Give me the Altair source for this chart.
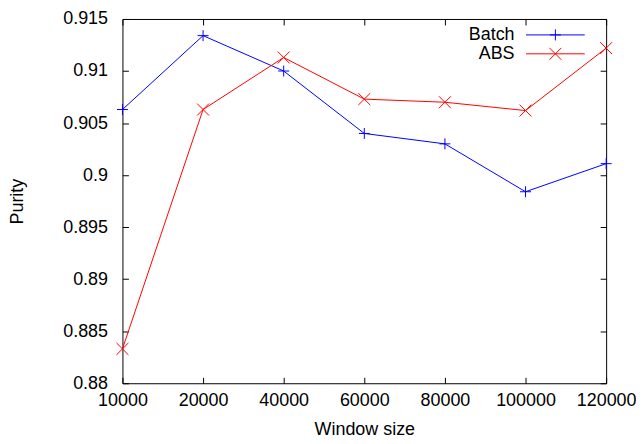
import altair as alt
import pandas as pd

windows = ["10000", "20000", "40000", "60000", "80000", "100000", "120000"]
batch = [0.9063, 0.9134, 0.9100, 0.9040, 0.9030, 0.8984, 0.9011]
abs_vals = [0.8833, 0.9063, 0.9113, 0.9073, 0.9070, 0.9062, 0.9122]
series_names = ["Batch", "ABS"]
series_colors = ["#0000ff", "#ff0000"]
y_ticks = [0.88, 0.885, 0.89, 0.895, 0.9, 0.905, 0.91, 0.915]

rows = []
for w, b, a in zip(windows, batch, abs_vals):
    rows.append({"window": w, "purity": b, "series": "Batch"})
    rows.append({"window": w, "purity": a, "series": "ABS"})
df = pd.DataFrame(rows)

W, H = 486, 366
FONT = "Liberation Sans"

PLUS = "M-1,0H1M0,-1V1"
CROSS = "M-1,-1L1,1M-1,1L1,-1"
LEG_PLUS = "M-4.92,0H4.92M0,-0.92V0.92M-0.92,0H0.92"
LEG_CROSS = "M-4.92,0H4.92M-1,-1L1,1M-1,1L1,-1"

xscale = alt.Scale(type="point", padding=0, domain=windows)
yscale = alt.Scale(domain=[0.88, 0.915], nice=False, zero=False)
cscale = alt.Scale(domain=series_names, range=series_colors)

base = alt.Chart(df)


def xenc(axis):
    return alt.X("window:O", scale=xscale, sort=windows, axis=axis)


def yenc(axis):
    return alt.Y("purity:Q", scale=yscale, axis=axis)


ax_x_main = alt.Axis(orient="bottom", title="Window size", ticks=False, domain=False,
                     labelAngle=0, labelPadding=8, titlePadding=12)
ax_y_main = alt.Axis(orient="left", title="Purity", values=y_ticks, format="~g",
                     ticks=False, domain=False, labelPadding=15, titlePadding=36)
ax_x_top_in = alt.Axis(orient="top", offset=-H, labels=False, title=None, domain=False,
                       ticks=True, tickSize=6, tickColor="black")
ax_y_right_in = alt.Axis(orient="right", offset=-W, labels=False, title=None, domain=False,
                         values=y_ticks, ticks=True, tickSize=6, tickColor="black")
ax_x_bot_in = alt.Axis(orient="bottom", offset=-H, labels=False, title=None, domain=False,
                       ticks=True, tickSize=6, tickColor="black")
ax_y_left_in = alt.Axis(orient="left", offset=-W, labels=False, title=None, domain=False,
                        values=y_ticks, ticks=True, tickSize=6, tickColor="black")

line_batch = base.transform_filter(alt.datum.series == "Batch").mark_line(
    strokeWidth=1, color=series_colors[0]
).encode(x=xenc(ax_x_main), y=yenc(ax_y_main))

line_abs = base.transform_filter(alt.datum.series == "ABS").mark_line(
    strokeWidth=1, color=series_colors[1]
).encode(x=xenc(ax_x_top_in), y=yenc(ax_y_right_in))

pts_batch = base.transform_filter(alt.datum.series == "Batch").mark_point(
    shape=PLUS, size=121, filled=False, strokeWidth=1, opacity=1, color=series_colors[0]
).encode(x=xenc(ax_x_bot_in), y=yenc(ax_y_left_in))

pts_abs = base.transform_filter(alt.datum.series == "ABS").mark_point(
    shape=CROSS, size=144, filled=False, strokeWidth=1, opacity=1, color=series_colors[1]
).encode(x=xenc(None), y=yenc(None))

legend_layer = base.transform_filter("false").mark_point(
    filled=False, strokeWidth=1, opacity=1
).encode(
    color=alt.Color("series:N", scale=cscale,
                    legend=alt.Legend(orient="none", legendX=426, legendY=7, title=None,
                                      labelAlign="right", labelOffset={"expr": "-50"},
                                      labelFontSize=18,
                                      labelFont=FONT, labelColor="black",
                                      symbolSize=144, symbolStrokeWidth=1, rowPadding=1,
                                      padding=0, direction="vertical")),
    shape=alt.Shape("series:N", scale=alt.Scale(domain=series_names, range=[LEG_PLUS, LEG_CROSS])),
)

chart = alt.layer(line_batch, line_abs, pts_batch, pts_abs, legend_layer).resolve_axis(
    x="independent", y="independent"
).properties(
    width=W, height=H,
    background="white",
    autosize=alt.AutoSizeParams(type="none"),
    padding={"left": 115, "top": 10, "right": 30, "bottom": 58},
).configure_view(
    stroke="black", strokeWidth=1
).configure_axis(
    labelFont=FONT, labelFontSize=18, labelColor="black",
    titleFont=FONT, titleFontSize=18, titleColor="black", titleFontWeight="normal",
    grid=False,
)

chart.save("out.html", embed_options={"renderer": "svg", "actions": False})
